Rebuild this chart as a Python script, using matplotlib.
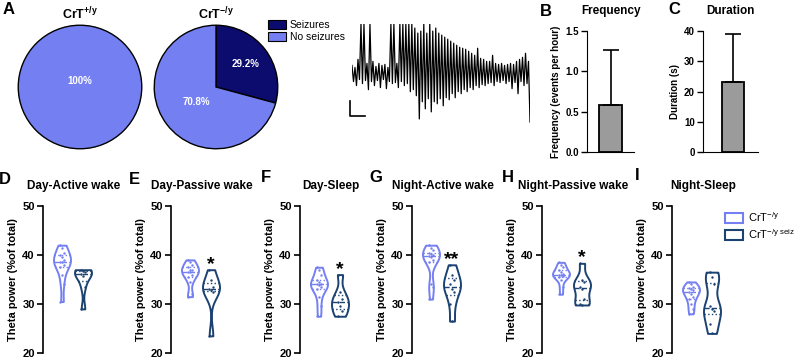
import numpy as np
import matplotlib
matplotlib.use('Agg')
from matplotlib import pyplot as plt
from matplotlib.patches import Patch, Circle

plt.rcParams['font.family'] = ['Liberation Sans', 'DejaVu Sans']
plt.rcParams['mathtext.default'] = 'regular'

# --- data ---
pie_wt = [100.0]
pie_ko = [29.2, 70.8]
pie_labels = ['Seizures', 'No seizures']

# seizure trace, alternating upper / lower excursions (arbitrary units)
eeg_hi = [8, 6, 14, 49, 49, 10, 49, 12, 7, 10, 8, 9, 6, 49, 49, 10, 49, 49, 49, 49,
          49, 45, 40, 42, 49, 40, 49, 42, 45, 40, 38, 36, 34, 32, 30, 28, 26, 25, 24, 22,
          20, 18, 25, 15, 14, 12, 12, 18, 10, 9, 10, 8, 9, 10, 9, 12, 14, 16, 20, 12]
eeg_lo = [-8, -12, -6, -10, -7, -16, -8, -12, -7, -14, -6, -15, -8, -10, -9, -14, -8, -12, -10, -18,
          -16, -22, -45, -28, -35, -25, -38, -28, -30, -25, -32, -24, -26, -20, -24, -18, -20, -16, -18, -14,
          -16, -12, -14, -11, -12, -10, -9, -12, -8, -9, -7, -10, -8, -15, -9, -20, -8, -12, -10, -48]
eeg_duration = 60.0
bar_t, bar_v = 5.0, 15.0

freq_mean, freq_sd = 0.58, 0.68
dur_mean, dur_sd = 23.2, 15.7

titles = ['Day-Active wake', 'Day-Passive wake', 'Day-Sleep',
          'Night-Active wake', 'Night-Passive wake', 'Night-Sleep']
letters = ['D', 'E', 'F', 'G', 'H', 'I']
ctrl = [
    [42, 41.5, 40.5, 40, 39.5, 39, 38.5, 38.5, 38, 37.5, 36, 34, 30.5],
    [39, 38.5, 38, 37.5, 37, 37, 36.5, 36.5, 36, 35.5, 34.5, 32, 31.5],
    [37.5, 37, 36, 35, 34.5, 34, 34, 33.8, 33.5, 33, 31.5, 29.5, 27.5],
    [42, 41.5, 41, 40.5, 40.2, 40, 39.8, 39.5, 39, 38.5, 34, 33.5, 31],
    [38.5, 38, 37.5, 37, 36.5, 36.2, 36, 36, 35.8, 35.5, 35, 33.5, 32],
    [34.5, 34, 33.5, 33.2, 33, 32.8, 32.5, 32, 31.5, 31, 30, 29, 28],
]
seiz = [
    [37, 36.8, 36.5, 36.2, 35.8, 33.5, 29],
    [37, 35, 33.5, 33, 32.8, 32.5, 23.5],
    [36, 32.5, 31, 30.5, 29.5, 28.5, 27.5],
    [38, 36, 35, 34, 33, 32.5, 30, 26.5],
    [38.3, 35, 34.5, 33.5, 33, 31, 30, 29.8],
    [36.5, 35.5, 34, 29.5, 29, 28.5, 26, 24],
]
stars = ['', '*', '*', '**', '*', '']

LIGHT = '#7480f2'
NAVY = '#0c0c6e'
DARK = '#1c4272'
GRAY = '#9b9b9b'

W, H = 800, 361
fig = plt.figure(figsize=(8, 3.61), dpi=100)


def box(x0, y0, x1, y1):
    return fig.add_axes([x0 / W, 1 - y1 / H, (x1 - x0) / W, (y1 - y0) / H])


def letter(x, y, s):
    fig.text(x / W, 1 - y / H, s, fontsize=12, fontweight='bold', ha='center', va='center')


# A: pies
ax = box(17, 24, 143, 150)
wedges, _ = ax.pie(pie_wt, colors=[LIGHT], startangle=90, counterclock=False,
                   wedgeprops=dict(linewidth=0))
ax.add_patch(Circle((0, 0), 1, fill=False, edgecolor='black', linewidth=1))
ax.text(0, 0.1, '100%', color='white', fontsize=7, fontweight='bold', ha='center', va='center')
ax.set_xlim(-1.02, 1.02)
ax.set_ylim(-1.02, 1.02)
ax.set_aspect('equal')

ax = box(153, 24, 279, 150)
wedges, _ = ax.pie(pie_ko, colors=[NAVY, LIGHT], startangle=90, counterclock=False,
                   wedgeprops=dict(edgecolor='black', linewidth=1))
for w, v, d in zip(wedges, pie_ko, [0.6, 0.4]):
    a = np.deg2rad((w.theta1 + w.theta2) / 2)
    ax.text(d * np.cos(a), d * np.sin(a), f'{v}%', color='white', fontsize=7,
            fontweight='bold', ha='center', va='center')
ax.set_xlim(-1.02, 1.02)
ax.set_ylim(-1.02, 1.02)
ax.set_aspect('equal')

fig.text(80 / W, 1 - 14 / H, 'CrT$^{+/y}$', fontsize=9, fontweight='bold', ha='center', va='center')
fig.text(216 / W, 1 - 14 / H, 'CrT$^{-/y}$', fontsize=9, fontweight='bold', ha='center', va='center')
fig.legend(handles=[Patch(facecolor=NAVY, edgecolor='black', linewidth=0.8),
                    Patch(facecolor=LIGHT, edgecolor='black', linewidth=0.8)],
           labels=pie_labels, loc='upper left', bbox_to_anchor=(268 / W, 1 - 20 / H),
           frameon=False, fontsize=7.5, handlelength=1.7, handleheight=1.0,
           handletextpad=0.4, borderaxespad=0, borderpad=0, labelspacing=0.15)
letter(9, 10, 'A')

# seizure trace
ax = box(352, 24, 530, 125)
trace = np.ravel(np.column_stack([eeg_hi, eeg_lo]))
t = np.linspace(0, eeg_duration, len(trace))
ax.plot(t, trace, color='black', linewidth=0.9)
# scale bar
ax.plot([-0.7, -0.7, -0.7 + bar_t], [-27, -27 - bar_v, -27 - bar_v], color='black',
        linewidth=1.2, clip_on=False)
ax.set_xlim(0, eeg_duration)
ax.set_ylim(-51, 49)
ax.axis('off')


def style_bar(ax):
    for s in ['top', 'right']:
        ax.spines[s].set_visible(False)
    ax.set_xticks([])
    ax.tick_params(axis='y', length=4, width=1, labelsize=7, pad=2)
    for lab in ax.get_yticklabels():
        lab.set_fontweight('bold')


# B: frequency
ax = box(587, 31, 634, 152)
ax.bar(0, freq_mean, width=0.98, color=GRAY, edgecolor='black', linewidth=1.3,
       yerr=[[0], [freq_sd]], capsize=6, error_kw=dict(elinewidth=1.2, capthick=1.2))
ax.set_xlim(-1, 1)
ax.set_ylim(0, 1.5)
ax.set_yticks([0, 0.5, 1.0, 1.5])
ax.set_yticklabels(['0.0', '0.5', '1.0', '1.5'])
ax.set_ylabel('Frequency (events per hour)', fontsize=7, fontweight='bold', labelpad=3)
ax.set_title('Frequency', fontsize=8.5, fontweight='bold', pad=12)
style_bar(ax)
letter(546, 11, 'B')

# C: duration
ax = box(703, 31, 758, 152)
ax.bar(0, dur_mean, width=0.8, color=GRAY, edgecolor='black', linewidth=1.3,
       yerr=[[0], [dur_sd]], capsize=6, error_kw=dict(elinewidth=1.2, capthick=1.2))
ax.set_xlim(-1.1, 0.9)
ax.set_ylim(0, 40)
ax.set_yticks([0, 10, 20, 30, 40])
ax.set_ylabel('Duration (s)', fontsize=7, fontweight='bold', labelpad=3)
ax.set_title('Duration', fontsize=8.5, fontweight='bold', pad=12)
style_bar(ax)
letter(674, 10, 'C')

# D-I: theta power violins
spines_x = [43, 171, 300, 412, 542, 672]
letter_xy = [(5, 180), (134, 180), (266, 178), (376, 178), (508, 178), (637, 176)]
VPOS = [19, 40]
VW = 17

for i in range(6):
    sx = spines_x[i]
    ax = box(sx, 206, sx + 62, 353)
    groups = [ctrl[i], seiz[i]]
    parts = ax.violinplot(groups, positions=VPOS, widths=VW, showextrema=False, bw_method=0.45)
    for body, vals, pos, c in zip(parts['bodies'], groups, VPOS, [LIGHT, DARK]):
        body.set_facecolor('white')
        body.set_edgecolor(c)
        body.set_alpha(1)
        body.set_linewidth(1.4)
        v = body.get_paths()[0].vertices
        right = v[v[:, 0] >= pos]
        right = right[np.argsort(right[:, 1])]
        for q, ls in zip(np.percentile(vals, [25, 50, 75]), [':', '--', ':']):
            hw = np.interp(q, right[:, 1], right[:, 0]) - pos
            ax.plot([pos - hw, pos + hw], [q, q], color=c, linewidth=1, linestyle=ls)
        offs = ((np.arange(len(vals)) % 3) - 1) * 2.0
        ax.scatter(pos + offs, vals, s=3, color=c, zorder=3, linewidths=0)
    if stars[i]:
        ax.text(VPOS[1], max(seiz[i]) + 0.2, stars[i], fontsize=14, fontweight='bold',
                ha='center', va='baseline')
    ax.set_xlim(0, 62)
    ax.set_ylim(20, 50)
    ax.set_yticks([20, 30, 40, 50])
    for s in ['top', 'right', 'bottom']:
        ax.spines[s].set_visible(False)
    ax.spines['left'].set_linewidth(1.2)
    ax.set_xticks([])
    ax.tick_params(axis='y', length=4, width=1.2, labelsize=8, pad=2)
    for lab in ax.get_yticklabels():
        lab.set_fontweight('bold')
    ax.set_ylabel('Theta power (%of total)', fontsize=8, fontweight='bold', labelpad=3)
    ax.set_title(titles[i], fontsize=8.5, fontweight='bold', pad=12)
    letter(*letter_xy[i], letters[i])

fig.legend(handles=[Patch(facecolor='white', edgecolor=LIGHT, linewidth=1.5),
                    Patch(facecolor='white', edgecolor=DARK, linewidth=1.5)],
           labels=['CrT$^{-/y}$', 'CrT$^{-/y\\ seiz}$'], loc='upper left',
           bbox_to_anchor=(725 / W, 1 - 210 / H), frameon=False, fontsize=8,
           handlelength=1.6, handleheight=0.9, handletextpad=0.5, borderaxespad=0,
           borderpad=0, labelspacing=0.3)

fig.savefig('out.png', dpi=100)
